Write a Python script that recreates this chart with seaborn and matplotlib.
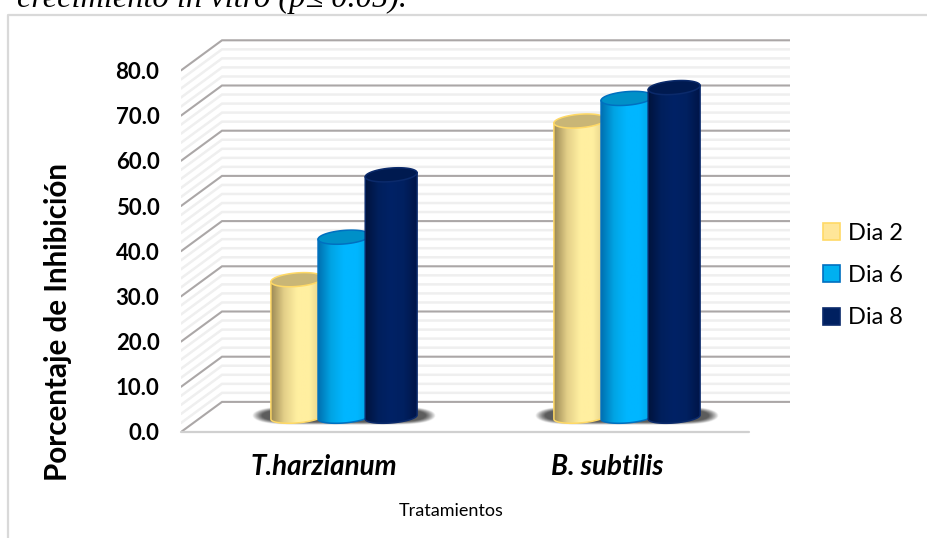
import numpy as np
import pandas as pd
import matplotlib
matplotlib.use('Agg')
import matplotlib.pyplot as plt
import seaborn as sns
from matplotlib.colors import LinearSegmentedColormap
from matplotlib.lines import Line2D
from matplotlib.patches import Patch, Polygon

tratamientos = ['T.harzianum', 'B. subtilis']
dias = ['Dia 2', 'Dia 6', 'Dia 8']
dia_2 = [30.4, 65.5]
dia_6 = [39.8, 70.5]
dia_8 = [53.6, 72.9]
ticks = [0, 10, 20, 30, 40, 50, 60, 70, 80]

colores = ['#FFE699', '#00B0F0', '#002060']
bordes = ['#FFD966', '#0070C0', '#0B2A6B']
tapas = ['#C9B676', '#0090C8', '#001A50']
gradientes = [
    ['#9C8A55', '#E3CF88', '#FFEFA0', '#FFEFA0', '#E0CB85'],
    ['#0070B0', '#00A4E4', '#00B6FF', '#00B6FF', '#00A4E0'],
    ['#00133C', '#001F5C', '#002266', '#002060', '#001548'],
]

# el piso 3D desplaza las barras y la pared del fondo respecto a la escala
base = 3.3
fondo = 6.66

df = pd.DataFrame({
    'Tratamiento': tratamientos * 3,
    'Dia': [d for d in dias for _ in tratamientos],
    'Inhibicion': dia_2 + dia_6 + dia_8,
})

sns.set_theme(style='white')
plt.rcParams['font.family'] = ['Lato', 'DejaVu Sans']

fig = plt.figure(figsize=(9.28, 5.38), dpi=100)
ax = fig.add_axes([181 / 928, 1 - 432 / 538, 609 / 928, 393 / 538])
ax.patch.set_alpha(0)

sns.barplot(data=df, x='Tratamiento', y='Inhibicion', hue='Dia', hue_order=dias,
            palette=colores, saturation=1, width=0.5, gap=-0.1, bottom=base,
            legend=False, ax=ax)

x0, x1 = -0.576, 1.576
esquina = 41 / 283
x_fin_frente = x1 - esquina

# lineas de la pared y del piso
for v in np.arange(0, 81, 2):
    mayor = v % 10 == 0
    ax.plot([x0, x0 + esquina, x1], [v, v + fondo, v + fondo],
            color='#ABA7A7' if mayor else '#EFEFEF', lw=1.5 if mayor else 1.8,
            zorder=1 if mayor else 0.5, solid_joinstyle='miter')
ax.plot([x0, x_fin_frente], [0, 0], color='#D0D0D0', lw=1.6, zorder=1, clip_on=False)

# sombra debajo de cada grupo
for g in range(len(tratamientos)):
    izq = ax.containers[0][g].get_x()
    der = ax.containers[2][g].get_x() + ax.containers[2][g].get_width()
    ext = [izq - 0.066, der + 0.066, base - 1.8, base + 2.2]
    xx, yy = np.meshgrid(np.linspace(-1, 1, 300), np.linspace(-1, 1, 50))
    a = np.clip(2.0 * (1 - (np.abs(xx) ** 6 + yy ** 2)), 0, 1) * 0.85
    rgba = np.zeros(a.shape + (4,))
    rgba[..., :3] = 0.25
    rgba[..., 3] = a
    ax.imshow(rgba, extent=ext, origin='lower', aspect='auto', zorder=2,
              interpolation='bilinear')

# cilindros a partir de las barras de seaborn
t = np.linspace(0, 2 * np.pi, 80)
orden = 3
for i, cont in enumerate(ax.containers):
    cmap = LinearSegmentedColormap.from_list(dias[i], gradientes[i])
    for bar in cont:
        bx, by, bw, bh = bar.get_x(), bar.get_y(), bar.get_width(), bar.get_height()
        bar.set_visible(False)
        cx = bx + bw / 2
        arriba = by + bh
        alto = 1.5
        incl = 0.45
        bajo_t = np.linspace(np.pi, 2 * np.pi, 40)
        cuerpo = np.column_stack([
            np.r_[bx, cx + bw / 2 * np.cos(bajo_t), bx + bw],
            np.r_[arriba - incl, by + incl * np.cos(bajo_t) + 1.3 * np.sin(bajo_t), arriba + incl],
        ])
        pol = Polygon(cuerpo, closed=True, facecolor='none', edgecolor=bordes[i],
                      lw=1.1, zorder=orden + 1)
        ax.add_patch(pol)
        im = ax.imshow(np.linspace(0, 1, 128).reshape(1, -1), cmap=cmap, aspect='auto',
                       extent=[bx, bx + bw, by - alto - 1, arriba + 2], zorder=orden,
                       interpolation='bilinear')
        im.set_clip_path(pol)
        tapa = np.column_stack([cx + bw / 2 * np.cos(t),
                                arriba + incl * np.cos(t) + alto * np.sin(t)])
        ax.add_patch(Polygon(tapa, closed=True, facecolor=tapas[i], edgecolor=bordes[i],
                             lw=1.1, zorder=orden + 2))
    orden += 3

ax.set_xlim(x0, x1)
ax.set_ylim(0, 393 / 4.52)
sns.despine(ax=ax, left=True, bottom=True, right=True, top=True)

ax.set_yticks(ticks)
ax.set_yticklabels([f'{v:.1f}' for v in ticks], fontsize=16, fontweight='bold', color='black')
ax.set_xticks([-0.07, 0.93])
ax.set_xticklabels(tratamientos, fontsize=20, fontweight='bold', style='italic', color='black')
ax.tick_params(axis='y', length=0, pad=15.5)
ax.tick_params(axis='x', length=0, pad=16)

ax.set_ylabel('Porcentaje de Inhibición', fontsize=21.3, fontweight='bold', color='black')
ax.yaxis.set_label_coords(-0.179, 0.28)
ax.set_xlabel('Tratamientos', fontsize=13, color='black')
ax.xaxis.set_label_coords(0.443, -0.2)
ax.xaxis.label.set_verticalalignment('center')

handles = [Patch(facecolor=colores[i], edgecolor=bordes[i], lw=1.2, label=dias[i]) for i in range(3)]
fig.legend(handles=handles, loc='center left', bbox_to_anchor=(823 / 928, 1 - 275.5 / 538),
           frameon=False, fontsize=17, handlelength=0.72, handleheight=0.72, borderpad=0,
           borderaxespad=0, handletextpad=0.36, labelspacing=0.91, labelcolor='black')

# marco y texto del documento que queda recortado arriba
fig.add_artist(Line2D([8.5 / 928, 8.5 / 928, 1], [0, 1 - 14.5 / 538, 1 - 14.5 / 538],
                      color='#D9D9D9', lw=1.6))
fig.text(17 / 928, 1 - 7 / 538, 'crecimiento in vitro (p≤ 0.05).', va='baseline',
         family=['Liberation Serif', 'DejaVu Serif'], style='italic', fontsize=23.3, color='black')

plt.savefig('out.png', dpi=100)
